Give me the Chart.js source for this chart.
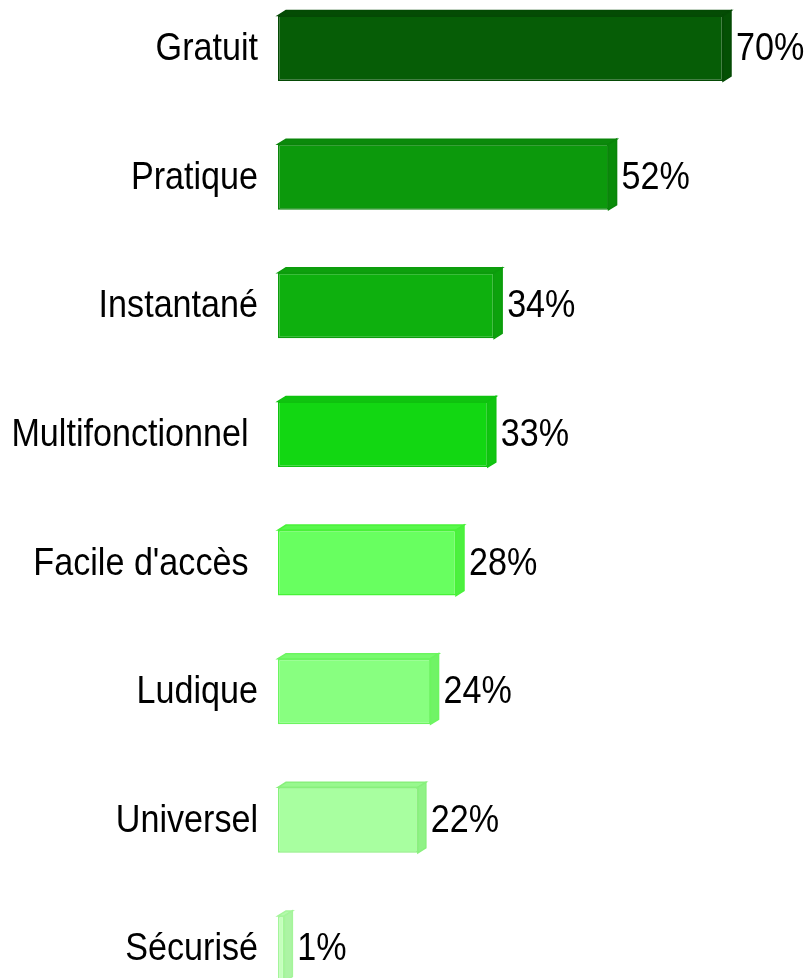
<!DOCTYPE html>
<html>
<head>
<meta charset="utf-8">
<script src="https://cdn.jsdelivr.net/npm/chart.js@4/dist/chart.umd.min.js"></script>
<style>
  html, body { margin: 0; padding: 0; background: #fff; }
  #wrap { position: relative; width: 812px; height: 978px; overflow: hidden; }
  #box { position: absolute; left: 0; top: -16px; width: 812px; height: 1029px; }
</style>
</head>
<body>
<div id="wrap"><div id="box"><canvas id="c"></canvas></div></div>
<script>
const categories = ["Gratuit", "Pratique", "Instantané", "Multifonctionnel ", "Facile d'accès ", "Ludique", "Universel", "Sécurisé"];
const values = [70, 52, 34, 33, 28, 24, 22, 1];
const valueLabels = ["70%", "52%", "34%", "33%", "28%", "24%", "22%", "1%"];
const frontColors = ["#065D06", "#0C990C", "#0EB00E", "#12D712", "#68FF60", "#88FF80", "#A8FFA0", "#C4FFBC"];
const edgeColors  = ["#044A04", "#0A850A", "#0C9C0C", "#0FC20F", "#48F238", "#6CF560", "#88F07C", "#A4F59A"];
const topColors   = ["#044C04", "#0B8A0B", "#0DA00D", "#10C410", "#58F84C", "#78FA6E", "#98F88E", "#B4FAAC"];
const sideColors  = ["#045004", "#0A8C0A", "#0CA20C", "#10C610", "#4CF040", "#70F466", "#90F286", "#ACF4A4"];

const FONT = "'Liberation Sans', Arial, sans-serif";
const FONT_SIZE = 39;
const SQUEEZE = 0.875;
const DX = 8, DY = 5;

function drawNarrowText(ctx, text, x, y, align) {
  ctx.save();
  ctx.translate(x, y);
  ctx.scale(SQUEEZE, 1);
  ctx.font = FONT_SIZE + 'px ' + FONT;
  ctx.fillStyle = '#000';
  ctx.textAlign = align;
  ctx.textBaseline = 'middle';
  ctx.fillText(text, 0, 0);
  ctx.restore();
}

const bar3d = {
  id: 'bar3d',
  afterDatasetsDraw(chart) {
    const ctx = chart.ctx;
    const meta = chart.getDatasetMeta(0);
    meta.data.forEach((bar, i) => {
      const p = bar.getProps(['x', 'y', 'base', 'height'], true);
      const left = p.base, right = p.x, top = p.y - p.height / 2, bottom = p.y + p.height / 2;
      ctx.save();
      ctx.lineWidth = 1.5;
      ctx.strokeStyle = edgeColors[i];
      ctx.beginPath();
      ctx.moveTo(left, top);
      ctx.lineTo(left + DX, top - DY);
      ctx.lineTo(right + DX, top - DY);
      ctx.lineTo(right, top);
      ctx.closePath();
      ctx.fillStyle = topColors[i];
      ctx.fill(); ctx.stroke();
      ctx.beginPath();
      ctx.moveTo(right, top);
      ctx.lineTo(right + DX, top - DY);
      ctx.lineTo(right + DX, bottom - DY);
      ctx.lineTo(right, bottom);
      ctx.closePath();
      ctx.fillStyle = sideColors[i];
      ctx.fill(); ctx.stroke();
      ctx.restore();
      drawNarrowText(ctx, valueLabels[i], right + 13, p.y + 1, 'left');
    });
    const ys = chart.scales.y;
    ys.ticks.forEach((t, i) => {
      drawNarrowText(ctx, ys.getLabelForValue(t.value), ys.right - 20, ys.getPixelForTick(i) + 1, 'right');
    });
  }
};

new Chart(document.getElementById('c'), {
  type: 'bar',
  data: {
    labels: categories,
    datasets: [{
      data: values,
      backgroundColor: frontColors,
      borderColor: edgeColors,
      borderWidth: 1.5,
      borderSkipped: false,
      barPercentage: 0.51,
      categoryPercentage: 1.0
    }]
  },
  options: {
    indexAxis: 'y',
    responsive: true,
    maintainAspectRatio: false,
    animation: false,
    layout: { padding: 0 },
    plugins: { legend: { display: false }, tooltip: { enabled: false } },
    scales: {
      x: {
        min: 0, max: 84,
        display: false,
        grid: { display: false }
      },
      y: {
        grid: { display: false, drawTicks: false },
        border: { display: false },
        ticks: { display: false },
        afterFit(scale) { scale.width = 278; }
      }
    }
  },
  plugins: [bar3d]
});
</script>
</body>
</html>
